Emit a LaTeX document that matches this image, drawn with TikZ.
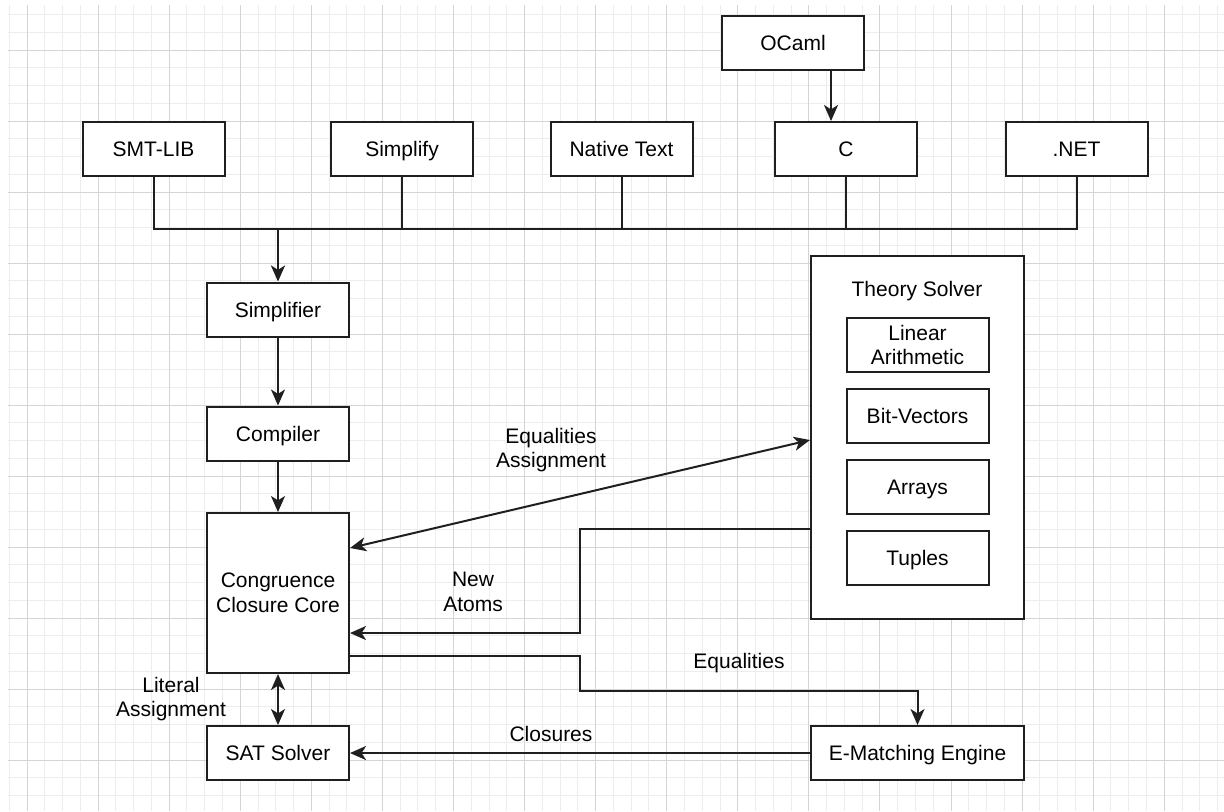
\documentclass[tikz,border=0pt]{standalone}
\usepackage{fontspec}
\setmainfont{Liberation Sans}
\usetikzlibrary{arrows.meta}

\newcommand\lblfont{\fontsize{10.5}{12.3}\selectfont}

\begin{document}
\begin{tikzpicture}[x=0.5pt,y=-0.5pt,
  minorgrid/.style={draw=black!7, line width=0.5pt},
  majorgrid/.style={draw=black!17, line width=0.5pt},
  boxbase/.style={draw=black!88, line width=1pt, fill=white, minimum width=71pt,
    minimum height=27pt, inner sep=0pt, align=center, font=\lblfont},
  box/.style={boxbase, text height=7.5pt, text depth=0pt},
  frame/.style={draw=black!88, line width=1pt, fill=white, inner sep=0pt},
  lbl/.style={align=center, font=\lblfont, inner sep=0pt},
  link/.style={draw=black!88, line width=1pt},
  tip/.style={Stealth[length=8pt, width=7pt, inset=2.2pt]},
  arr/.style={link, -{Stealth[length=8pt, width=7pt, inset=2.2pt]}},
  dbl/.style={link, {Stealth[length=8pt, width=7pt, inset=2.2pt]}-{Stealth[length=8pt, width=7pt, inset=2.2pt]}}
]
\useasboundingbox (0,0) rectangle (1224,811);
\fill[white] (0,0) rectangle (1224,811);

% background grid
\foreach \k in {-1,...,67}{
  \pgfmathsetmacro\gx{27+17.77*\k}
  \draw[minorgrid] (\gx,5) -- (\gx,811);
}
\foreach \k in {-2,...,42}{
  \pgfmathsetmacro\gy{50+17.75*\k}
  \draw[minorgrid] (8,\gy) -- (1224,\gy);
}
\foreach \k in {0,4,...,64}{
  \pgfmathsetmacro\gx{27+17.77*\k}
  \draw[majorgrid] (\gx,5) -- (\gx,811);
}
\foreach \k in {0,4,...,40}{
  \pgfmathsetmacro\gy{50+17.75*\k}
  \draw[majorgrid] (8,\gy) -- (1224,\gy);
}

% front ends
\node[box] (ocaml) at (793,43) {OCaml};
\node[box] (smt) at (153.5,149) {SMT-LIB};
\node[box] (simplify) at (402,149) {Simplify};
\node[box] (native) at (621.5,149) {Native Text};
\node[box] (capi) at (846,149) {C};
\node[box] (net) at (1076.5,149) {.NET};

% pipeline
\node[box] (simplifier) at (278,309.5) {Simplifier};
\node[box] (compiler) at (278,433.5) {Compiler};
\node[boxbase, minimum height=80pt] (core) at (278,593) {Congruence\\Closure Core};
\node[box] (sat) at (278,753) {SAT Solver};
\node[box, minimum width=106.5pt] (ematch) at (917.5,753) {E-Matching Engine};

% theory solver with its theories
\node[frame, minimum width=106.5pt, minimum height=181.5pt] (theory) at (917.5,437.5) {};
\node[lbl] (theorytitle) at (917,291) {Theory Solver};
\node[boxbase] (linear) at (917.5,345) {Linear\\Arithmetic};
\node[box] (bitvec) at (917.5,415.5) {Bit-Vectors};
\node[box] (arrays) at (917.5,486.5) {Arrays};
\node[box] (tuples) at (917.5,557.5) {Tuples};

% shared input bus
\coordinate (bus) at (278,229);
\draw[link] (smt.south) |- (bus);
\draw[link] (simplify.south) |- (bus);
\draw[link] (native.south) |- (bus);
\draw[link] (capi.south) |- (bus);
\draw[link] (net.south) |- (bus);
\draw[arr, line width=1.4pt] (bus) -- (simplifier.north);
\draw[arr] (ocaml.south -| 831,0) -- (capi.north -| 831,0);

% pipeline arrows
\draw[arr] (simplifier) -- (compiler);
\draw[arr] (compiler) -- (core);
\draw[dbl] (core.south) -- (sat.north);

% interaction with the theory solver and e-matching
\draw[dbl] (core.east |- 0,548) -- (theory.west |- 0,440);
\draw[arr] (theory.west |- 0,529) -| (580,633) -- (core.east |- 0,633);
\draw[arr] (core.east |- 0,656) -| (580,691) -| (ematch.north);
\draw[arr] (ematch.west) -- (sat.east);

% edge labels
\node[lbl] (eqassign) at (551,450) {Equalities\\Assignment};
\node[lbl] (newatoms) at (473,592) {New\\Atoms};
\node[lbl] (eqs) at (739,663) {Equalities};
\node[lbl] (closures) at (551,734) {Closures};
\node[lbl] (litassign) at (171,699) {Literal\\Assignment};
\end{tikzpicture}
\end{document}
